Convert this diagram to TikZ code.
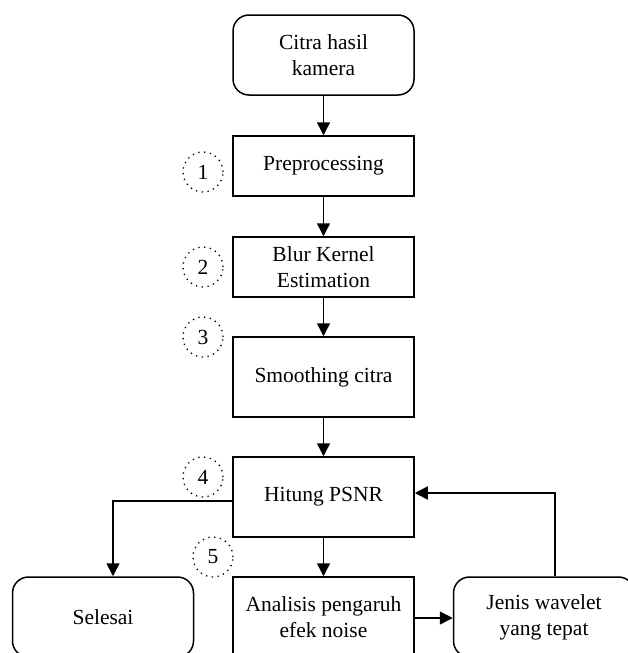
\documentclass[tikz,border=0pt]{standalone}
\usepackage{fontspec}
\setmainfont{Liberation Serif}
\usetikzlibrary{arrows.meta}
\begin{document}
\begin{tikzpicture}[x=1pt,y=-1pt,
  every node/.style={font=\fontsize{21.5}{26}\selectfont},
  proc/.style={draw,line width=1.5pt,minimum width=181pt,minimum height=60pt,align=center,inner sep=0pt},
  term/.style={proc,rounded corners=16pt,minimum height=80pt},
  num/.style={draw,line width=1.3pt,dash pattern=on 1.3pt off 4.5pt,circle,minimum size=40pt,inner sep=0pt},
  conn/.style={line width=1.5pt,-{Triangle[length=13pt,width=13pt]}}]
\useasboundingbox (0,0) rectangle (627,653);
\node[term] (start) at (323.5,55) {Citra hasil\\kamera};
\node[proc] (pre) at (323.5,166) {Preprocessing};
\node[proc] (blur) at (323.5,267) {Blur Kernel\\Estimation};
\node[proc,minimum height=80pt] (smooth) at (323.5,377) {Smoothing citra};
\node[proc,minimum height=80pt] (psnr) at (323.5,497) {Hitung PSNR};
\node[proc,minimum height=80pt] (anal) at (323.5,617) {Analisis pengaruh\\efek noise};
\node[term] (selesai) at (103,617) {Selesai};
\node[term] (jenis) at (544,617) {Jenis wavelet\\yang tepat};
\node[num] (n1) at (203,172) {1};
\node[num] (n2) at (203,267) {2};
\node[num] (n3) at (203,337) {3};
\node[num] (n4) at (203,477) {4};
\node[num] (n5) at (213,557) {5};
\coordinate (c1) at (113,501);
\coordinate (c2) at (555,493);
\draw[conn] (start) -- (pre);
\draw[conn] (pre) -- (blur);
\draw[conn] (blur) -- (smooth);
\draw[conn] (smooth) -- (psnr);
\draw[conn] (psnr) -- (anal);
\draw[conn] (psnr.west |- c1) -- (c1) -- (selesai.north -| c1);
\draw[conn] (jenis.north -| c2) -- (c2) -- (psnr.east |- c2);
\draw[conn] (anal.east |- 0,618) -- (jenis.west |- 0,618);
\end{tikzpicture}
\end{document}
